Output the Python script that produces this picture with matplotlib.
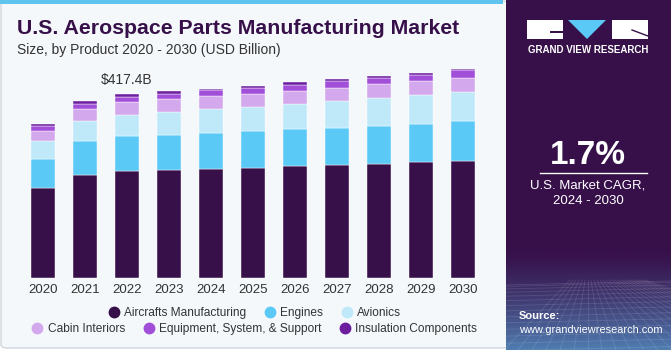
"""U.S. aerospace parts manufacturing market, stacked bars by product 2020-2030."""

import matplotlib

matplotlib.use("Agg")

import matplotlib.pyplot as plt
import numpy as np
from matplotlib.lines import Line2D
from matplotlib.patches import FancyBboxPatch, Polygon, Rectangle

plt.rcParams["font.family"] = ["Liberation Sans", "DejaVu Sans"]

# --- data (USD billion) ---
YEARS = ["2020", "2021", "2022", "2023", "2024", "2025", "2026", "2027", "2028", "2029", "2030"]
AIRCRAFTS = [205.4, 234.2, 243.3, 245.6, 248.6, 250.9, 253.9, 256.2, 259.2, 263.0, 265.3]
ENGINES = [66.0, 76.6, 78.8, 80.3, 80.3, 84.1, 84.9, 84.9, 87.2, 87.9, 91.7]
AVIONICS = [40.9, 46.2, 49.3, 50.8, 55.3, 54.6, 56.1, 60.6, 63.7, 65.2, 65.2]
CABIN = [22.7, 27.3, 28.8, 30.3, 28.8, 28.8, 30.3, 30.3, 30.3, 31.1, 31.8]
EQUIPMENT = [9.9, 12.1, 12.1, 12.1, 15.2, 14.4, 14.4, 15.2, 15.2, 14.4, 19.0]
INSULATION = [5.3, 5.3, 5.3, 5.3, 1.5, 4.5, 5.3, 5.3, 4.5, 5.3, 1.5]

SERIES = [
    ("Aircrafts Manufacturing", AIRCRAFTS, "#37104a"),
    ("Engines", ENGINES, "#5bc9f6"),
    ("Avionics", AVIONICS, "#bfe9f9"),
    ("Cabin Interiors", CABIN, "#d4a8ec"),
    ("Equipment, System, & Support", EQUIPMENT, "#a14fd8"),
    ("Insulation Components", INSULATION, "#6b1e9e"),
]
HIGHLIGHT_YEAR = "2022"
HIGHLIGHT_LABEL = "$417.4B"
CAGR = "1.7%"

W, H = 671, 350
DARK = "#37104a"
BG = "#f4f8fb"


def fx(px):
    return px / W


def fy(py):
    return 1 - py / H


def draw_background(fig):
    # zorder below the axes so the bars stay visible
    fig.patches.append(FancyBboxPatch(
        (fx(1), fy(348)), fx(508), 347 / H, boxstyle="round,pad=0,rounding_size=0.01",
        transform=fig.transFigure, facecolor=BG, edgecolor="#cfd6dc", linewidth=1.0,
        zorder=-5,
    ))
    fig.patches.append(Rectangle(
        (fx(0), fy(4)), fx(503), 4 / H, transform=fig.transFigure,
        facecolor="#5ec4ee", edgecolor="none", zorder=-4,
    ))


def draw_bars(fig):
    ax = fig.add_axes([fx(22), fy(278), fx(462), 220 / H])
    ax.set_facecolor("none")
    x = np.arange(len(YEARS))
    bottom = np.zeros(len(YEARS))
    for name, vals, color in SERIES:
        vals = np.asarray(vals)
        ax.bar(x, vals, 0.57, bottom=bottom, color=color, edgecolor="white",
               linewidth=0.3, label=name)
        bottom += vals

    i = YEARS.index(HIGHLIGHT_YEAR)
    ax.text(x[i], bottom[i] + 33, HIGHLIGHT_LABEL, ha="center", va="center",
            fontsize=10, color="#333333")

    ax.set_xlim(-0.5, len(YEARS) - 0.5)
    ax.set_ylim(0, 500)
    ax.set_xticks(x)
    ax.set_xticklabels(YEARS, fontsize=9.5, color="#333333")
    ax.tick_params(axis="x", length=0, pad=4)
    ax.set_yticks([])
    for s in ax.spines.values():
        s.set_visible(False)

    def handles(items):
        return [Line2D([], [], marker="o", linestyle="none", markersize=7.5,
                       markerfacecolor=c, markeredgecolor=c, label=n)
                for n, _, c in items]

    common = dict(loc="center", ncol=3, frameon=False, fontsize=8.6,
                  handlelength=0.8, handletextpad=0.45, columnspacing=1.6,
                  labelcolor="#333333", borderpad=0, borderaxespad=0)
    fig.legend(handles=handles(SERIES[:3]), bbox_to_anchor=(fx(255), fy(313)), **common)
    fig.legend(handles=handles(SERIES[3:]), bbox_to_anchor=(fx(255), fy(329)), **common)


def draw_titles(fig):
    fig.text(fx(17), fy(29), "U.S. Aerospace Parts Manufacturing Market", fontsize=15.3,
             fontweight="bold", color=DARK, va="center", ha="left")
    fig.text(fx(17), fy(50), "Size, by Product 2020 - 2030 (USD Billion)", fontsize=10,
             color="#333333", va="center", ha="left")


def draw_side_panel(fig):
    ax = fig.add_axes([fx(506), 0, fx(165), 1])
    ax.set_xlim(0, 165)
    ax.set_ylim(350, 0)
    ax.axis("off")

    # dark purple fading to blue near the bottom
    top = np.array([0x37, 0x10, 0x4a]) / 255
    low = np.array([0x4f, 0x7c, 0xb0]) / 255
    t = np.clip((np.linspace(0, 350, 200) - 250) / 100, 0, 1) ** 1.3
    grad = top[None, :] * (1 - t[:, None]) + low[None, :] * t[:, None]
    ax.imshow(grad[:, None, :], extent=(0, 165, 350, 0), aspect="auto", zorder=0)

    # faint perspective grid in the lower part
    for k in range(14):
        y = 285 + k ** 1.5 * 1.4
        ax.plot([0, 165], [y, y - 4], color="white", alpha=0.12, linewidth=0.6)
    for k in range(-6, 20):
        ax.plot([82 + k * 3, 82 + k * 14], [280, 350], color="white", alpha=0.12,
                linewidth=0.6)

    # logo blocks
    ax.add_patch(Rectangle((21, 20), 36, 19, facecolor="white", edgecolor="none"))
    ax.add_patch(Rectangle((44, 31), 13, 2, facecolor=DARK, edgecolor="none"))
    ax.add_patch(Polygon([(62, 20), (100, 20), (81, 39)], closed=True,
                         facecolor="#5bc9f6", edgecolor="none"))
    ax.add_patch(Rectangle((106, 20), 36, 19, facecolor="white", edgecolor="none"))
    ax.plot([126, 142], [30, 36], color=DARK, linewidth=1.0)
    ax.text(82, 50, "GRAND VIEW RESEARCH", ha="center", va="center", fontsize=7,
            fontweight="bold", color="white")

    ax.text(82, 156, CAGR, ha="center", va="center", fontsize=24, fontweight="bold",
            color="white")
    ax.plot([34, 141], [173, 173], color="white", linewidth=1.0)
    ax.text(82, 186, "U.S. Market CAGR,", ha="center", va="center", fontsize=9.5,
            color="white")
    ax.text(82, 201, "2024 - 2030", ha="center", va="center", fontsize=9.5, color="white")

    ax.text(13, 316, "Source:", ha="left", va="center", fontsize=8, fontweight="bold",
            color="white")
    ax.text(13, 330, "www.grandviewresearch.com", ha="left", va="center", fontsize=7.9,
            color="white")


def main():
    fig = plt.figure(figsize=(W / 100, H / 100), dpi=100, facecolor="white")
    draw_background(fig)
    draw_titles(fig)
    draw_bars(fig)
    draw_side_panel(fig)
    fig.savefig("out.png", dpi=100, facecolor="white")
    plt.close(fig)


if __name__ == "__main__":
    main()
